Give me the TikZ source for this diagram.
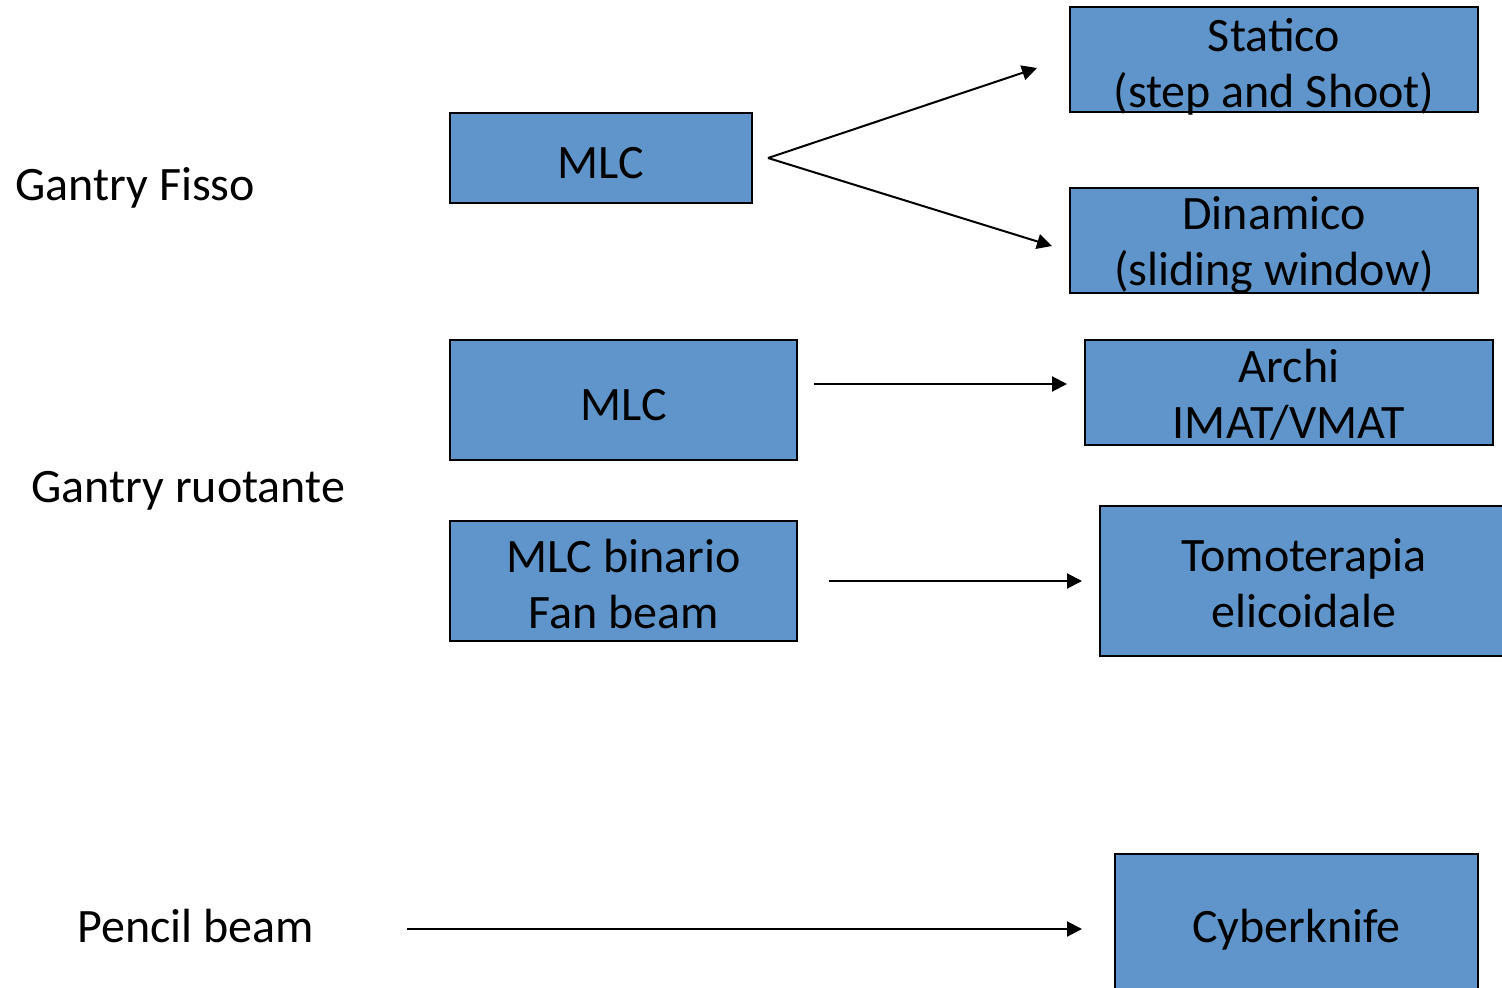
\documentclass[tikz,border=0pt]{standalone}
\usepackage{fontspec}
\setmainfont{Carlito}
\usetikzlibrary{arrows.meta}
\definecolor{boxblue}{HTML}{5F95CA}
\tikzset{
  box/.style={draw=black, line width=1pt, fill=boxblue, inner sep=0pt},
  boxtext/.style={align=center, inner sep=0pt, yshift=-2.5pt,
    font=\fontsize{24}{28}\selectfont},
  side/.style={inner sep=0pt, anchor=west, font=\fontsize{24}{28}\selectfont},
  link/.style={line width=1pt, -{Triangle[length=7.5pt,width=7.5pt]}}
}
\begin{document}
\begin{tikzpicture}[x=0.5pt,y=-0.5pt]
  \useasboundingbox (0,0) rectangle (1502,988);

  % left column
  \node[side] (fisso) at (15,188) {Gantry Fisso};
  \node[side] (ruotante) at (31,491) {Gantry ruotante};
  \node[side] (pencil) at (77,926) {Pencil beam};

  % middle column
  \node[box, minimum width=151pt, minimum height=45pt,
    label={[boxtext]center:MLC}] (mlcA) at (601,158) {};
  \node[box, minimum width=173.5pt, minimum height=60pt,
    label={[boxtext]center:MLC}] (mlcB) at (623.5,400) {};
  \node[box, minimum width=173.5pt, minimum height=60pt,
    label={[boxtext, yshift=1pt]center:MLC binario\\Fan beam}] (binario) at (623.5,581) {};

  % right column
  \node[box, minimum width=204pt, minimum height=52.5pt,
    label={[boxtext, yshift=-1pt]center:Statico\\(step and Shoot)}] (statico) at (1274,59.5) {};
  \node[box, minimum width=204pt, minimum height=52.5pt,
    label={[boxtext]center:Dinamico\\(sliding window)}] (dinamico) at (1274,240.5) {};
  \node[box, minimum width=204pt, minimum height=52.5pt,
    label={[boxtext, yshift=1.5pt]center:Archi\\IMAT/VMAT}] (archi) at (1289,392.5) {};
  \node[box, minimum width=204pt, minimum height=75pt,
    label={[boxtext, yshift=1.5pt]center:Tomoterapia\\elicoidale}] (tomo) at (1304,581) {};
  \node[box, minimum width=181.5pt, minimum height=75pt,
    label={[boxtext, yshift=2pt]center:Cyberknife}] (cyber) at (1296.5,929) {};

  \coordinate (forkA) at ([xshift=7.5pt]mlcA.east);
  \draw[link] (forkA) -- ([shift={(-32,8.5)}]statico.west);
  \draw[link] (forkA) -- ([shift={(-17,5.5)}]dinamico.west);
  \draw[link] ([shift={(16,-16)}]mlcB.east) -- ([shift={(-17,-8.5)}]archi.west);
  \draw[link, shorten <=15.5pt, shorten >=8.5pt] (binario.east) -- (tomo.west);
  \draw[link, shorten <=46.5pt, shorten >=16pt] (pencil.east |- cyber.west) -- (cyber.west);
\end{tikzpicture}
\end{document}
